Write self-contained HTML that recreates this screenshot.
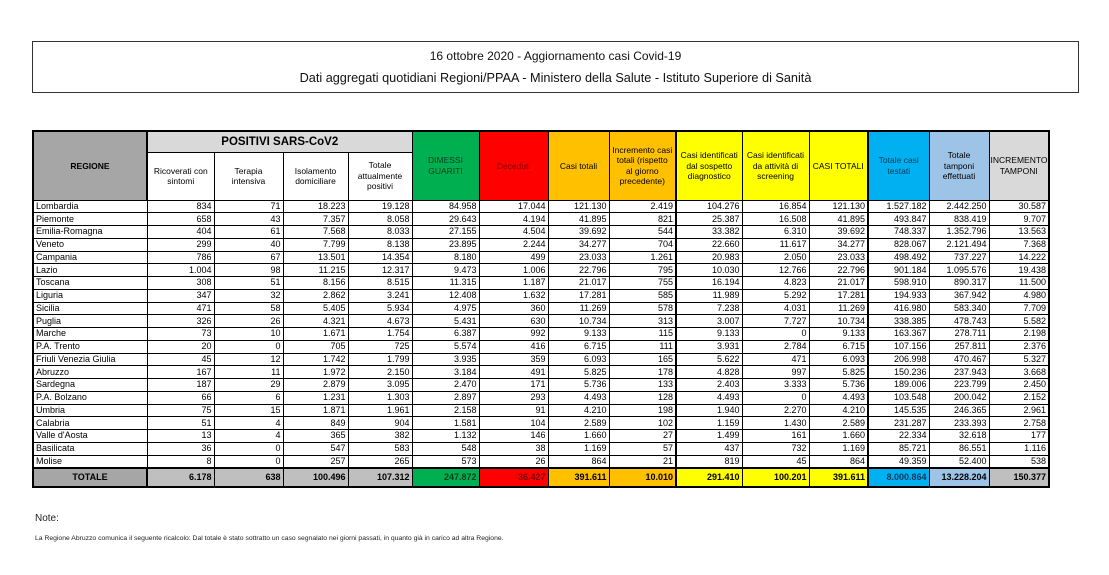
<!DOCTYPE html>
<html><head><meta charset="utf-8"><style>
html,body{margin:0;padding:0;background:#fff;width:1109px;height:575px;overflow:hidden;font-family:"Liberation Sans",sans-serif;}
.tbox{position:absolute;left:32px;top:41px;width:1045px;height:50px;border:1px solid #333;}
.t1{position:absolute;left:0;width:100%;top:7px;text-align:center;font-size:12px;color:#111;}
.t2{position:absolute;left:0;width:100%;top:29px;text-align:center;font-size:12.7px;color:#111;}
table{position:absolute;left:32px;top:130px;width:1016px;border-collapse:collapse;table-layout:fixed;font-size:9px;color:#000;border:2px solid #000;}
td{border:1px solid #000;padding:0 2px;white-space:nowrap;overflow:hidden;line-height:11px;}
tr.d td{height:11.76px;text-align:right;}
tr.d td:first-child{text-align:left;}
th{border:1px solid #000;font-weight:normal;font-size:8.5px;line-height:10.5px;padding:0 1px;white-space:nowrap;overflow:hidden;}
.tk{border-left:2px solid #000;}
.g{background:#00b050;color:#0a3d1e}
.r{background:#ff0000;color:#7a0000}
.o{background:#ffc000}
.y{background:#ffff00}
.b{background:#00b0f0;color:#0a3a5a}
.lb{background:#9dc3e6}
.gr{background:#d9d9d9}
.dg{background:#a6a6a6}
.tot td{height:17px;font-weight:bold;text-align:right;}
.note1{position:absolute;left:35px;top:513px;font-size:10px;color:#222;}
.note2{position:absolute;left:35px;top:535px;font-size:6.8px;color:#222;}
</style></head><body>
<div class="tbox"><div class="t1">16 ottobre 2020 - Aggiornamento casi Covid-19</div><div class="t2">Dati aggregati quotidiani Regioni/PPAA - Ministero della Salute - Istituto Superiore di Sanità</div></div>
<table>
<colgroup><col style="width:114px"><col style="width:67px"><col style="width:69px"><col style="width:65px"><col style="width:64px"><col style="width:67px"><col style="width:69px"><col style="width:61px"><col style="width:67px"><col style="width:66px"><col style="width:67px"><col style="width:59px"><col style="width:61px"><col style="width:60px"><col style="width:60px"></colgroup>
<tr style="height:21px"><th rowspan="2" class="dg" style="font-weight:bold;border-right:2px solid #000">REGIONE</th><th colspan="4" class="gr" style="font-weight:bold;font-size:11.5px">POSITIVI SARS-CoV2</th><th rowspan="2" class="g">DIMESSI<br>GUARITI</th><th rowspan="2" class="r">Deceduti</th><th rowspan="2" class="o">Casi totali</th><th rowspan="2" class="o">Incremento casi<br>totali (rispetto<br>al giorno<br>precedente)</th><th rowspan="2" class="y tk">Casi identificati<br>dal sospetto<br>diagnostico</th><th rowspan="2" class="y">Casi identificati<br>da attività di<br>screening</th><th rowspan="2" class="y">CASI TOTALI</th><th rowspan="2" class="b tk">Totale casi<br>testati</th><th rowspan="2" class="lb">Totale<br>tamponi<br>effettuati</th><th rowspan="2" class="gr">INCREMENTO<br>TAMPONI</th></tr>
<tr style="height:48px"><th>Ricoverati con<br>sintomi</th><th>Terapia<br>intensiva</th><th>Isolamento<br>domiciliare</th><th>Totale<br>attualmente<br>positivi</th></tr>
<tr class="d"><td>Lombardia</td><td>834</td><td>71</td><td>18.223</td><td>19.128</td><td>84.958</td><td>17.044</td><td>121.130</td><td>2.419</td><td class="tk">104.276</td><td>16.854</td><td>121.130</td><td class="tk">1.527.182</td><td>2.442.250</td><td>30.587</td></tr>
<tr class="d"><td>Piemonte</td><td>658</td><td>43</td><td>7.357</td><td>8.058</td><td>29.643</td><td>4.194</td><td>41.895</td><td>821</td><td class="tk">25.387</td><td>16.508</td><td>41.895</td><td class="tk">493.847</td><td>838.419</td><td>9.707</td></tr>
<tr class="d"><td>Emilia-Romagna</td><td>404</td><td>61</td><td>7.568</td><td>8.033</td><td>27.155</td><td>4.504</td><td>39.692</td><td>544</td><td class="tk">33.382</td><td>6.310</td><td>39.692</td><td class="tk">748.337</td><td>1.352.796</td><td>13.563</td></tr>
<tr class="d"><td>Veneto</td><td>299</td><td>40</td><td>7.799</td><td>8.138</td><td>23.895</td><td>2.244</td><td>34.277</td><td>704</td><td class="tk">22.660</td><td>11.617</td><td>34.277</td><td class="tk">828.067</td><td>2.121.494</td><td>7.368</td></tr>
<tr class="d"><td>Campania</td><td>786</td><td>67</td><td>13.501</td><td>14.354</td><td>8.180</td><td>499</td><td>23.033</td><td>1.261</td><td class="tk">20.983</td><td>2.050</td><td>23.033</td><td class="tk">498.492</td><td>737.227</td><td>14.222</td></tr>
<tr class="d"><td>Lazio</td><td>1.004</td><td>98</td><td>11.215</td><td>12.317</td><td>9.473</td><td>1.006</td><td>22.796</td><td>795</td><td class="tk">10.030</td><td>12.766</td><td>22.796</td><td class="tk">901.184</td><td>1.095.576</td><td>19.438</td></tr>
<tr class="d"><td>Toscana</td><td>308</td><td>51</td><td>8.156</td><td>8.515</td><td>11.315</td><td>1.187</td><td>21.017</td><td>755</td><td class="tk">16.194</td><td>4.823</td><td>21.017</td><td class="tk">598.910</td><td>890.317</td><td>11.500</td></tr>
<tr class="d"><td>Liguria</td><td>347</td><td>32</td><td>2.862</td><td>3.241</td><td>12.408</td><td>1.632</td><td>17.281</td><td>585</td><td class="tk">11.989</td><td>5.292</td><td>17.281</td><td class="tk">194.933</td><td>367.942</td><td>4.980</td></tr>
<tr class="d"><td>Sicilia</td><td>471</td><td>58</td><td>5.405</td><td>5.934</td><td>4.975</td><td>360</td><td>11.269</td><td>578</td><td class="tk">7.238</td><td>4.031</td><td>11.269</td><td class="tk">416.980</td><td>583.340</td><td>7.709</td></tr>
<tr class="d"><td>Puglia</td><td>326</td><td>26</td><td>4.321</td><td>4.673</td><td>5.431</td><td>630</td><td>10.734</td><td>313</td><td class="tk">3.007</td><td>7.727</td><td>10.734</td><td class="tk">338.385</td><td>478.743</td><td>5.582</td></tr>
<tr class="d"><td>Marche</td><td>73</td><td>10</td><td>1.671</td><td>1.754</td><td>6.387</td><td>992</td><td>9.133</td><td>115</td><td class="tk">9.133</td><td>0</td><td>9.133</td><td class="tk">163.367</td><td>278.711</td><td>2.198</td></tr>
<tr class="d"><td>P.A. Trento</td><td>20</td><td>0</td><td>705</td><td>725</td><td>5.574</td><td>416</td><td>6.715</td><td>111</td><td class="tk">3.931</td><td>2.784</td><td>6.715</td><td class="tk">107.156</td><td>257.811</td><td>2.376</td></tr>
<tr class="d"><td>Friuli Venezia Giulia</td><td>45</td><td>12</td><td>1.742</td><td>1.799</td><td>3.935</td><td>359</td><td>6.093</td><td>165</td><td class="tk">5.622</td><td>471</td><td>6.093</td><td class="tk">206.998</td><td>470.467</td><td>5.327</td></tr>
<tr class="d"><td>Abruzzo</td><td>167</td><td>11</td><td>1.972</td><td>2.150</td><td>3.184</td><td>491</td><td>5.825</td><td>178</td><td class="tk">4.828</td><td>997</td><td>5.825</td><td class="tk">150.236</td><td>237.943</td><td>3.668</td></tr>
<tr class="d"><td>Sardegna</td><td>187</td><td>29</td><td>2.879</td><td>3.095</td><td>2.470</td><td>171</td><td>5.736</td><td>133</td><td class="tk">2.403</td><td>3.333</td><td>5.736</td><td class="tk">189.006</td><td>223.799</td><td>2.450</td></tr>
<tr class="d"><td>P.A. Bolzano</td><td>66</td><td>6</td><td>1.231</td><td>1.303</td><td>2.897</td><td>293</td><td>4.493</td><td>128</td><td class="tk">4.493</td><td>0</td><td>4.493</td><td class="tk">103.548</td><td>200.042</td><td>2.152</td></tr>
<tr class="d"><td>Umbria</td><td>75</td><td>15</td><td>1.871</td><td>1.961</td><td>2.158</td><td>91</td><td>4.210</td><td>198</td><td class="tk">1.940</td><td>2.270</td><td>4.210</td><td class="tk">145.535</td><td>246.365</td><td>2.961</td></tr>
<tr class="d"><td>Calabria</td><td>51</td><td>4</td><td>849</td><td>904</td><td>1.581</td><td>104</td><td>2.589</td><td>102</td><td class="tk">1.159</td><td>1.430</td><td>2.589</td><td class="tk">231.287</td><td>233.393</td><td>2.758</td></tr>
<tr class="d"><td>Valle d'Aosta</td><td>13</td><td>4</td><td>365</td><td>382</td><td>1.132</td><td>146</td><td>1.660</td><td>27</td><td class="tk">1.499</td><td>161</td><td>1.660</td><td class="tk">22.334</td><td>32.618</td><td>177</td></tr>
<tr class="d"><td>Basilicata</td><td>36</td><td>0</td><td>547</td><td>583</td><td>548</td><td>38</td><td>1.169</td><td>57</td><td class="tk">437</td><td>732</td><td>1.169</td><td class="tk">85.721</td><td>86.551</td><td>1.116</td></tr>
<tr class="d"><td>Molise</td><td>8</td><td>0</td><td>257</td><td>265</td><td>573</td><td>26</td><td>864</td><td>21</td><td class="tk">819</td><td>45</td><td>864</td><td class="tk">49.359</td><td>52.400</td><td>538</td></tr>
<tr class="tot" style="border-top:2px solid #000"><td class="dg" style="text-align:center;border-right:2px solid #000">TOTALE</td><td style="background:#bfbfbf">6.178</td><td style="background:#bfbfbf">638</td><td style="background:#bfbfbf">100.496</td><td style="background:#bfbfbf">107.312</td><td class="g">247.872</td><td class="r">36.427</td><td class="o">391.611</td><td class="o">10.010</td><td class="y tk">291.410</td><td class="y">100.201</td><td class="y">391.611</td><td class="b tk">8.000.864</td><td class="lb">13.228.204</td><td class="gr" style="background:#bfbfbf">150.377</td></tr>
</table>
<div class="note1">Note:</div>
<div class="note2">La Regione Abruzzo comunica il seguente ricalcolo: Dal totale è stato sottratto un caso segnalato nei giorni passati, in quanto già in carico ad altra Regione.</div>
</body></html>
